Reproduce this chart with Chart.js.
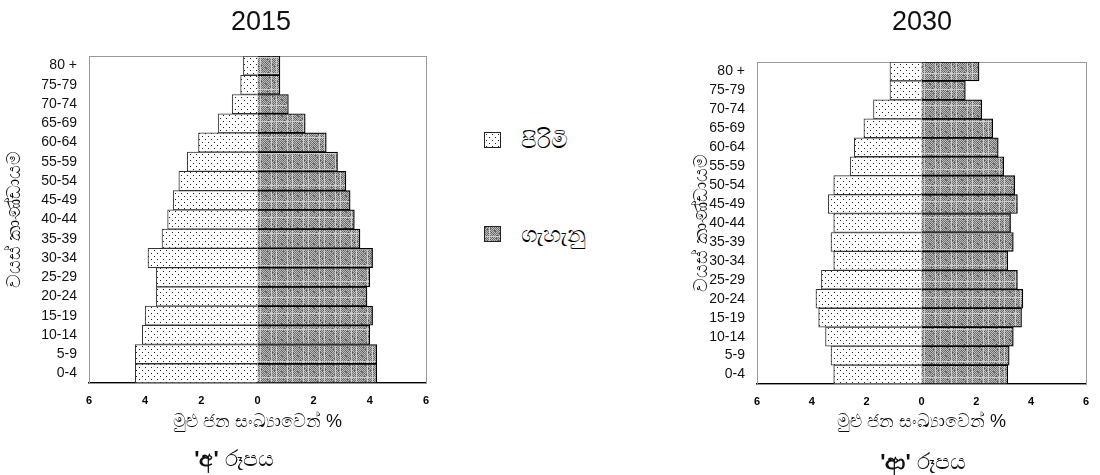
<!DOCTYPE html>
<html>
<head>
<meta charset="utf-8">
<script src="https://cdn.jsdelivr.net/npm/chart.js@4/dist/chart.umd.min.js"></script>
<style>
  body { margin: 0; background: #fff; width: 1100px; height: 475px; overflow: hidden; position: relative; font-family: "Liberation Sans", Arial, sans-serif; }
  canvas { position: absolute; top: 0; }
  .txt { position: absolute; color: #111; white-space: nowrap; transform: translate(-50%, -50%); }
  .year { font-size: 27px; }
  .cap { font-size: 22px; }
  .cap b { font-weight: bold; }
  .sw { position: absolute; width: 17px; height: 16px; border: 1px solid #222; box-sizing: border-box; }
  .lg { position: absolute; font-size: 23px; transform: translateY(-50%); }
</style>
</head>
<body>
<canvas id="chart2015" width="440" height="475" style="left:0px"></canvas>
<canvas id="chart2030" width="420" height="475" style="left:680px"></canvas>

<div class="txt year" style="left:261px; top:21px">2015</div>
<div class="txt year" style="left:922px; top:21px">2030</div>
<div class="txt cap" style="left:234px; top:459px"><b>'අ'</b> රූපය</div>
<div class="txt cap" style="left:923px; top:462px"><b>'ආ'</b> රූපය</div>

<div class="sw" id="swMale" style="left:484px; top:132px"></div>
<div class="lg" style="left:521px; top:140px">පිරිමි</div>
<div class="sw" id="swFemale" style="left:484px; top:226px"></div>
<div class="lg" style="left:521px; top:234px">ගැහැනු</div>

<script>
// වයස් කාණ්ඩ (උඩ සිට පහළට)
var ageGroups = ["80 +", "75-79", "70-74", "65-69", "60-64", "55-59", "50-54", "45-49", "40-44", "35-39", "30-34", "25-29", "20-24", "15-19", "10-14", "5-9", "0-4"];
var male2015 = [0.5, 0.6, 0.9, 1.4, 2.1, 2.5, 2.8, 3.0, 3.2, 3.4, 3.9, 3.6, 3.6, 4.0, 4.1, 4.35, 4.35];
var female2015 = [0.8, 0.8, 1.1, 1.7, 2.45, 2.85, 3.15, 3.3, 3.45, 3.65, 4.1, 4.0, 3.9, 4.1, 4.0, 4.25, 4.25];
var male2030 = [1.15, 1.15, 1.75, 2.1, 2.45, 2.6, 3.2, 3.4, 3.2, 3.3, 3.2, 3.65, 3.85, 3.75, 3.5, 3.3, 3.2];
var female2030 = [2.1, 1.6, 2.2, 2.6, 2.8, 3.0, 3.4, 3.5, 3.25, 3.35, 3.15, 3.5, 3.7, 3.65, 3.35, 3.2, 3.15];
var xTicks = [-6, -4, -2, 0, 2, 4, 6];
var legendLabels = ["පිරිමි", "ගැහැනු"];
var yTitle = "වයස් කාණ්ඩායම";
var xTitle = "මුළු ජන සංඛ්‍යාවෙන් %";

// තිත් රටාව (පිරිමි)
function dotTile() {
    var c = document.createElement('canvas');
    c.width = 6; c.height = 6;
    var g = c.getContext('2d');
    g.fillStyle = '#fff';
    g.fillRect(0, 0, 6, 6);
    g.fillStyle = '#222';
    g.fillRect(1, 1, 1, 1);
    g.fillRect(4, 4, 1, 1);
    return c;
}

// අළු රටාව (ගැහැනු) - checker එකක් මත ලප
function greyTile() {
    var n = 16;
    var c = document.createElement('canvas');
    c.width = n; c.height = n;
    var g = c.getContext('2d');
    for (var y = 0; y < n; y++) {
        for (var x = 0; x < n; x++) {
            var v = ((x + y) % 2) ? 115 : 185;
            var h = (x * 37 + y * 91 + x * y * 13) % 11;
            if (h === 0) v = 90;
            if (h === 5) v = 205;
            g.fillStyle = 'rgb(' + v + ',' + v + ',' + v + ')';
            g.fillRect(x, y, 1, 1);
        }
    }
    return c;
}

var dotC = dotTile(), greyC = greyTile();
document.getElementById('swMale').style.background = 'url(' + dotC.toDataURL() + ')';
document.getElementById('swFemale').style.background = 'url(' + greyC.toDataURL() + ')';

var framePlugin = {
    id: 'frame',
    beforeDatasetsDraw: function (chart) {
        var a = chart.chartArea, ctx = chart.ctx;
        ctx.save();
        ctx.strokeStyle = '#999';
        ctx.lineWidth = 1;
        ctx.strokeRect(Math.round(a.left) + 0.5, Math.round(a.top) + 0.5, Math.round(a.right - a.left), Math.round(a.bottom - a.top));
        ctx.restore();
    }
};

function makePyramid(id, male, female, o) {
    var ctx = document.getElementById(id).getContext('2d');
    var dotP = ctx.createPattern(dotC, 'repeat');
    var greyP = ctx.createPattern(greyC, 'repeat');
    return new Chart(ctx, {
        type: 'bar',
        data: {
            labels: ageGroups,
            datasets: [
                { label: legendLabels[0], data: male.map(function (v) { return -v; }), backgroundColor: dotP, borderColor: '#333', borderWidth: 1 },
                { label: legendLabels[1], data: female, backgroundColor: greyP, borderColor: '#000', borderWidth: 1.2 }
            ]
        },
        options: {
            indexAxis: 'y',
            responsive: false,
            animation: false,
            events: [],
            barPercentage: 1,
            categoryPercentage: 1,
            layout: { padding: { top: o.top, right: o.right, left: 0, bottom: 0 } },
            plugins: { legend: { display: false }, tooltip: { enabled: false }, title: { display: false } },
            scales: {
                x: {
                    stacked: true,
                    min: -6, max: 6,
                    afterBuildTicks: function (s) { s.ticks = xTicks.map(function (v) { return { value: v }; }); },
                    afterFit: function (s) { s.height = 475 - o.bottom; },
                    grid: { display: false, drawTicks: false },
                    border: { display: true, color: '#000', width: 1.5 },
                    ticks: {
                        padding: 11,
                        color: '#000',
                        font: { family: 'Liberation Sans', size: 11, weight: 'bold' },
                        callback: function (v) { return Math.abs(v); }
                    },
                    title: {
                        display: true, text: xTitle, color: '#111',
                        font: { family: 'Liberation Sans', size: 18 },
                        padding: { top: 0, bottom: 42 }
                    }
                },
                y: {
                    stacked: true,
                    afterFit: function (s) { s.width = o.yWidth; },
                    grid: { display: false, drawTicks: false },
                    border: { display: false },
                    ticks: {
                        padding: 12,
                        color: '#111',
                        font: { family: 'Liberation Sans', size: 14 },
                        autoSkip: false
                    },
                    title: {
                        display: true, text: yTitle, color: '#111',
                        font: { family: 'Liberation Sans', size: 19 },
                        padding: { top: o.yTitlePad, bottom: 0 }
                    }
                }
            }
        },
        plugins: [framePlugin]
    });
}

makePyramid('chart2015', male2015, female2015, { top: 56, right: 11, bottom: 383, yWidth: 89, yTitlePad: 3 });
makePyramid('chart2030', male2030, female2030, { top: 62, right: 4, bottom: 384, yWidth: 77, yTitlePad: 10 });
</script>
</body>
</html>
